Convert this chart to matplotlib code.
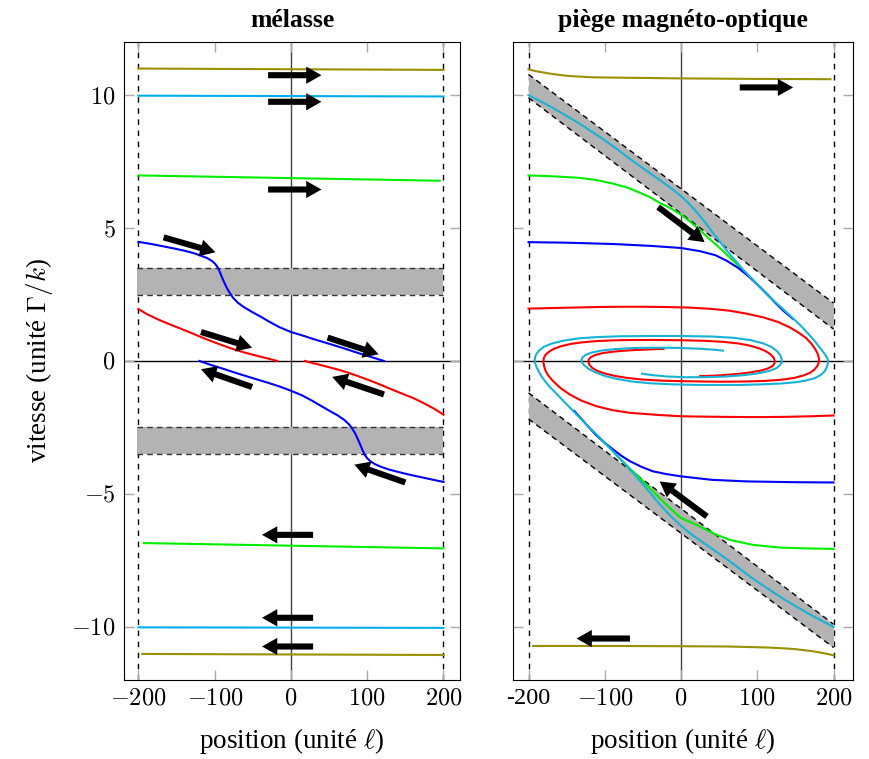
import matplotlib
matplotlib.use("Agg")
import matplotlib.pyplot as plt

plt.rcParams['font.family'] = ['Liberation Serif', 'DejaVu Serif']
plt.rcParams['mathtext.fontset'] = 'cm'

# ---- données ----
XTICKS = [-200, -100, 0, 100, 200]
YTICKS = [-10, -5, 0, 5, 10]
XLABELS_L = ['$-200$', '$-100$', '$0$', '$100$', '$200$']
XLABELS_R = ['-200', '$-100$', '$0$', '$100$', '$200$']
YLABELS = ['$-10$', '$-5$', '$0$', '$5$', '$10$']

# mélasse
mel_olive_up_x = [-200, 200]
mel_olive_up_v = [11.0, 10.95]
mel_olive_dn_x = [-195, 200]
mel_olive_dn_v = [-11.02, -11.06]
mel_cyan_up_x = [-200, 200]
mel_cyan_up_v = [9.98, 9.95]
mel_cyan_dn_x = [-200, 200]
mel_cyan_dn_v = [-10.02, -10.04]
mel_green_up_x = [-200, 195]
mel_green_up_v = [6.98, 6.78]
mel_green_dn_x = [-193, 200]
mel_green_dn_v = [-6.85, -7.05]
mel_blue_up_x = [-200, -185, -167, -153, -140, -128, -118, -110, -104, -100, -97, -94.5, -92, -89.5, -87,
                 -84, -80.5, -76, -70, -62, -52, -40, -28, -15, 0, 15, 30, 52, 70, 87, 105, 122]
mel_blue_up_v = [4.48, 4.41, 4.31, 4.23, 4.15, 4.06, 3.96, 3.87, 3.77, 3.67, 3.56, 3.43, 3.25, 3.08, 2.92,
                 2.74, 2.57, 2.38, 2.2, 2.03, 1.86, 1.67, 1.47, 1.27, 1.09, 0.96, 0.82, 0.63, 0.47, 0.31, 0.15, 0.0]
mel_blue_dn_x = [-120, -105, -87, -70, -52, -30, -15, 0, 15, 28, 40, 52, 62, 70, 76, 80.5, 84, 87, 89.5, 92,
                 94.5, 97, 100, 104, 110, 118, 128, 140, 153, 167, 185, 200]
mel_blue_dn_v = [0.0, -0.15, -0.31, -0.47, -0.63, -0.82, -0.96, -1.12, -1.3, -1.5, -1.7, -1.9, -2.06, -2.22,
                 -2.38, -2.55, -2.72, -2.9, -3.06, -3.23, -3.4, -3.54, -3.66, -3.77, -3.88, -3.98, -4.08,
                 -4.17, -4.26, -4.35, -4.46, -4.55]
mel_red_up_x = [-200, -188, -175, -160, -145, -132, -118, -104, -88, -74, -60, -44, -30, -18]
mel_red_up_v = [1.95, 1.75, 1.57, 1.39, 1.22, 1.07, 0.9, 0.74, 0.57, 0.43, 0.31, 0.19, 0.09, 0.0]
mel_red_dn_x = [18, 30, 44, 60, 74, 88, 104, 118, 132, 145, 160, 175, 188, 200]
mel_red_dn_v = [0.0, -0.09, -0.19, -0.31, -0.43, -0.57, -0.74, -0.9, -1.07, -1.22, -1.39, -1.6, -1.8, -2.02]
mel_bands = [(2.5, 3.5), (-3.5, -2.5)]
mel_arrows = [((-30, 10.75), (40, 10.75)), ((-30, 9.75), (40, 9.75)), ((-30, 6.45), (40, 6.45)),
              ((-167, 4.65), (-99, 4.09)), ((-118, 1.09), (-51, 0.5)), ((48, 0.88), (115, 0.25)),
              ((-51, -0.98), (-118, -0.31)), ((122, -1.26), (54, -0.6)), ((150, -4.57), (83, -3.9)),
              ((29, -6.54), (-38, -6.54)), ((29, -9.66), (-38, -9.66)), ((29, -10.74), (-38, -10.74))]

# piège magnéto-optique
mot_olive_up_x = [-200, -190, -180, -170, -159, -147, -135, -115, -60, 0, 100, 196]
mot_olive_up_v = [10.97, 10.9, 10.85, 10.8, 10.76, 10.72, 10.7, 10.67, 10.65, 10.63, 10.61, 10.6]
mot_olive_dn_x = [-194, -100, 0, 60, 90, 115, 135, 150, 162, 173, 183, 192, 200]
mot_olive_dn_v = [-10.72, -10.72, -10.73, -10.74, -10.76, -10.78, -10.81, -10.84, -10.88, -10.92, -10.97, -11.02, -11.07]
mot_cyan_up_x = [-200, -185, -170, -155, -137, -120, -100, -83, -67, -50, -30, -15, 0, 10, 20, 32, 45, 63, 82, 100,
                 117, 132, 147, 158, 167, 175, 182, 187, 190.5, 192.5, 193,
                 192.5, 191, 188, 183, 175, 163, 150, 130, 105, 80, 50, 20, -10, -40, -65, -85, -100, -112, -121,
                 -127, -130, -130.5, -129, -125, -118, -105, -85, -60, -30, 0, 25, 45, 55]
mot_cyan_up_v = [10.0, 9.78, 9.55, 9.3, 9.0, 8.68, 8.3, 7.95, 7.6, 7.25, 6.85, 6.54, 6.2, 5.93, 5.62, 5.2, 4.7, 4.05, 3.42, 2.88,
                 2.39, 2.0, 1.6, 1.3, 1.02, 0.76, 0.5, 0.32, 0.17, 0.07, 0.0,
                 -0.1, -0.25, -0.4, -0.53, -0.65, -0.74, -0.8, -0.85, -0.88, -0.9, -0.9, -0.9, -0.88, -0.84, -0.77, -0.67, -0.56, -0.43, -0.3,
                 -0.16, -0.05, 0.05, 0.14, 0.23, 0.31, 0.39, 0.45, 0.49, 0.5, 0.49, 0.46, 0.42, 0.39]
mot_cyan_dn_x = [200, 185, 170, 155, 137, 120, 100, 83, 67, 50, 30, 15, 0, -12, -24, -35, -46, -59, -72, -85, -98,
                 -111, -124, -137, -150, -161, -172, -180, -185, -189, -191.3, -192,
                 -191.5, -190, -186, -180, -170, -155, -135, -110, -80, -40, 0, 40, 70, 92, 108, 119, 126, 130, 132,
                 132, 130, 125, 115, 100, 80, 55, 30, 5, -20, -38, -51]
mot_cyan_dn_v = [-10.0, -9.78, -9.55, -9.3, -9.0, -8.68, -8.3, -7.95, -7.6, -7.25, -6.85, -6.55, -6.2, -5.88, -5.52, -5.15, -4.77, -4.34, -3.92, -3.52, -3.14,
                 -2.76, -2.39, -2.01, -1.63, -1.3, -0.98, -0.7, -0.48, -0.26, -0.1, 0.0,
                 0.12, 0.25, 0.4, 0.53, 0.65, 0.76, 0.85, 0.9, 0.93, 0.94, 0.94, 0.92, 0.87, 0.78, 0.66, 0.52, 0.37, 0.22, 0.08,
                 -0.05, -0.15, -0.27, -0.38, -0.47, -0.54, -0.59, -0.61, -0.61, -0.58, -0.53, -0.48]
mot_green_up_x = [-200, -170, -133, -110, -89, -70, -54, -40, -28, -14, 0, 12, 25, 37, 50, 60, 70, 82, 95, 100, 117]
mot_green_up_v = [6.98, 6.95, 6.89, 6.8, 6.67, 6.52, 6.33, 6.15, 5.95, 5.75, 5.5, 5.24, 4.92, 4.6, 4.27, 4.0, 3.73, 3.4, 3.03, 2.88, 2.39]
mot_green_dn_x = [200, 165, 130, 95, 64, 45, 25, 10, 0, -14, -28, -41, -54, -67, -80, -90, -100, -111]
mot_green_dn_v = [-7.07, -7.05, -7.02, -6.92, -6.73, -6.52, -6.23, -6.03, -5.91, -5.55, -5.16, -4.78, -4.4, -4.05, -3.68,
                  -3.38, -3.08, -2.76]
mot_blue_up_x = [-200, -150, -89, -40, 0, 25, 45, 60, 75, 90, 104, 115, 125, 135, 147]
mot_blue_up_v = [4.47, 4.45, 4.4, 4.33, 4.25, 4.13, 3.98, 3.77, 3.5, 3.15, 2.77, 2.45, 2.15, 1.87, 1.58]
mot_blue_dn_x = [200, 150, 86, 40, 0, -20, -37, -52, -67, -78, -89, -100, -111, -120, -130, -140]
mot_blue_dn_v = [-4.57, -4.56, -4.53, -4.47, -4.34, -4.25, -4.15, -3.98, -3.77, -3.57, -3.33, -3.08, -2.8, -2.52,
                 -2.2, -1.88]
mot_red_up_x = [-200, -170, -140, -110, -80, -50, -20, 10, 40, 64, 86, 108, 127, 143, 155, 164.5, 171, 176, 179.5, 181,
                180.5, 178.5, 175, 169, 160, 148, 130, 110, 85, 55, 25, 0, -25, -50, -70, -87, -100, -110, -116.5,
                -120, -121.5, -121, -118.5, -113, -104, -92, -78, -62, -45, -30, -23]
mot_red_up_v = [1.97, 1.99, 2.01, 2.03, 2.04, 2.04, 2.03, 2.01, 1.96, 1.89, 1.78, 1.64, 1.47, 1.26, 1.05, 0.85, 0.65, 0.45, 0.25, 0.08,
                -0.08, -0.2, -0.32, -0.45, -0.55, -0.64, -0.71, -0.75, -0.77, -0.78, -0.77, -0.76, -0.74, -0.7, -0.64, -0.56, -0.47, -0.37, -0.26,
                -0.15, -0.04, 0.06, 0.14, 0.22, 0.29, 0.34, 0.38, 0.41, 0.43, 0.45, 0.45]
mot_red_dn_x = [200, 170, 140, 110, 86, 50, 20, 0, -30, -67, -90, -111, -130, -146, -158, -168, -174, -177.5, -179.5,
                -180.5, -180, -178, -174, -168, -158, -145, -130, -110, -85, -60, -30, 0, 30, 55, 75, 90, 102, 111,
                117.5, 121.5, 123, 122.5, 120, 114, 105, 93, 80, 65, 50, 37, 25]
mot_red_dn_v = [-2.05, -2.08, -2.1, -2.11, -2.11, -2.1, -2.09, -2.08, -2.03, -1.95, -1.85, -1.7, -1.5, -1.26, -1.02, -0.75, -0.55, -0.38, -0.2,
                -0.05, 0.1, 0.22, 0.33, 0.44, 0.55, 0.64, 0.7, 0.75, 0.78, 0.79, 0.79, 0.78, 0.76, 0.72, 0.66, 0.58, 0.48, 0.37,
                0.25, 0.12, 0.0, -0.1, -0.19, -0.28, -0.36, -0.42, -0.47, -0.51, -0.54, -0.56, -0.57]
mot_band_x = [-200, 200]
mot_band_up_top = [10.78, 2.18]
mot_band_up_bot = [9.9, 1.2]
mot_band_dn_top = [-1.2, -9.9]
mot_band_dn_bot = [-2.18, -10.78]
mot_arrows = [((77, 10.29), (147, 10.29)), ((-67, -10.44), (-137, -10.44)),
              ((-30, 5.79), (31, 4.47)), ((34, -5.85), (-28, -4.53))]

OLIVE = '#9a9000'
CYAN_L = '#00aeef'
CYAN_R = '#18b2d6'
GREEN = '#00ee00'
BLUE = '#0000ff'
RED = '#ff0000'
GRAY = '#b3b3b3'


def setup(ax, xlim, xlabels, ylab):
    ax.set_xlim(*xlim)
    ax.set_ylim(-12, 12)
    ax.set_xticks(XTICKS)
    ax.set_xticklabels(xlabels, fontsize=17.5)
    ax.set_yticks(YTICKS)
    if ylab:
        ax.set_yticklabels(YLABELS, fontsize=17.5)
    else:
        ax.set_yticklabels([])
    ax.tick_params(direction='in', length=7, width=1, color='#aaaaaa',
                   top=True, right=True, pad=6)
    ax.axhline(0, color='black', lw=1, zorder=1)
    ax.axvline(0, color='#444444', lw=1, zorder=1)
    for xv in (-200, 200):
        ax.axvline(xv, color='black', lw=1, ls=(0, (4, 4)), zorder=1)
    ax.set_xlabel('position (unité $\\ell$)', fontsize=19.5, labelpad=12)


def curve(ax, x, v, color, z=3):
    ax.plot(x, v, color=color, lw=1.5, zorder=z, solid_joinstyle='round')


def arrows(ax, lst):
    for tail, head in lst:
        ax.annotate('', xy=head, xytext=tail, zorder=6,
                    arrowprops=dict(arrowstyle='simple,head_width=0.62,head_length=0.55,tail_width=0.22',
                                    mutation_scale=20, color='black', shrinkA=0, shrinkB=0, lw=0))


fig = plt.figure(figsize=(8.7, 7.59), dpi=100)
ax1 = fig.add_axes([0.1425, 0.1041, 0.3862, 0.8406])
ax2 = fig.add_axes([0.5897, 0.1041, 0.3908, 0.8406])

# --- mélasse ---
setup(ax1, (-219, 221.6), XLABELS_L, True)
for lo, hi in mel_bands:
    ax1.fill_between([-202, 200], lo, hi, color=GRAY, lw=0, zorder=2)
    for yv in (lo, hi):
        ax1.plot([-202, 200], [yv, yv], color='#333333', lw=1, ls=(0, (4, 3)), zorder=2)
curve(ax1, mel_olive_up_x, mel_olive_up_v, OLIVE)
curve(ax1, mel_olive_dn_x, mel_olive_dn_v, OLIVE)
curve(ax1, mel_cyan_up_x, mel_cyan_up_v, CYAN_L)
curve(ax1, mel_cyan_dn_x, mel_cyan_dn_v, CYAN_L)
curve(ax1, mel_green_up_x, mel_green_up_v, GREEN)
curve(ax1, mel_green_dn_x, mel_green_dn_v, GREEN)
curve(ax1, mel_blue_up_x, mel_blue_up_v, BLUE)
curve(ax1, mel_blue_dn_x, mel_blue_dn_v, BLUE)
curve(ax1, mel_red_up_x, mel_red_up_v, RED)
curve(ax1, mel_red_dn_x, mel_red_dn_v, RED)
arrows(ax1, mel_arrows)
ax1.set_title('mélasse', fontsize=18.5, fontweight='bold', pad=11)
ax1.set_ylabel('vitesse (unité $\\Gamma/k$)', fontsize=19.5, labelpad=12)

# --- piège magnéto-optique ---
setup(ax2, (-220.3, 225.6), XLABELS_R, False)
ax2.fill_between(mot_band_x, mot_band_up_bot, mot_band_up_top, color=GRAY, lw=0, zorder=2)
ax2.fill_between(mot_band_x, mot_band_dn_bot, mot_band_dn_top, color=GRAY, lw=0, zorder=2)
for edge in (mot_band_up_top, mot_band_up_bot, mot_band_dn_top, mot_band_dn_bot):
    ax2.plot(mot_band_x, edge, color='black', lw=1, ls=(0, (4, 3)), zorder=2)
curve(ax2, mot_olive_up_x, mot_olive_up_v, OLIVE)
curve(ax2, mot_olive_dn_x, mot_olive_dn_v, OLIVE)
curve(ax2, mot_green_up_x, mot_green_up_v, GREEN)
curve(ax2, mot_green_dn_x, mot_green_dn_v, GREEN)
curve(ax2, mot_blue_up_x, mot_blue_up_v, BLUE)
curve(ax2, mot_blue_dn_x, mot_blue_dn_v, BLUE)
curve(ax2, mot_red_up_x, mot_red_up_v, RED)
curve(ax2, mot_red_dn_x, mot_red_dn_v, RED)
curve(ax2, mot_cyan_up_x, mot_cyan_up_v, CYAN_R, z=4)
curve(ax2, mot_cyan_dn_x, mot_cyan_dn_v, CYAN_R, z=4)
arrows(ax2, mot_arrows)
ax2.set_title('piège magnéto-optique', fontsize=18.5, fontweight='bold', pad=11)

fig.savefig('out.png', dpi=100)
